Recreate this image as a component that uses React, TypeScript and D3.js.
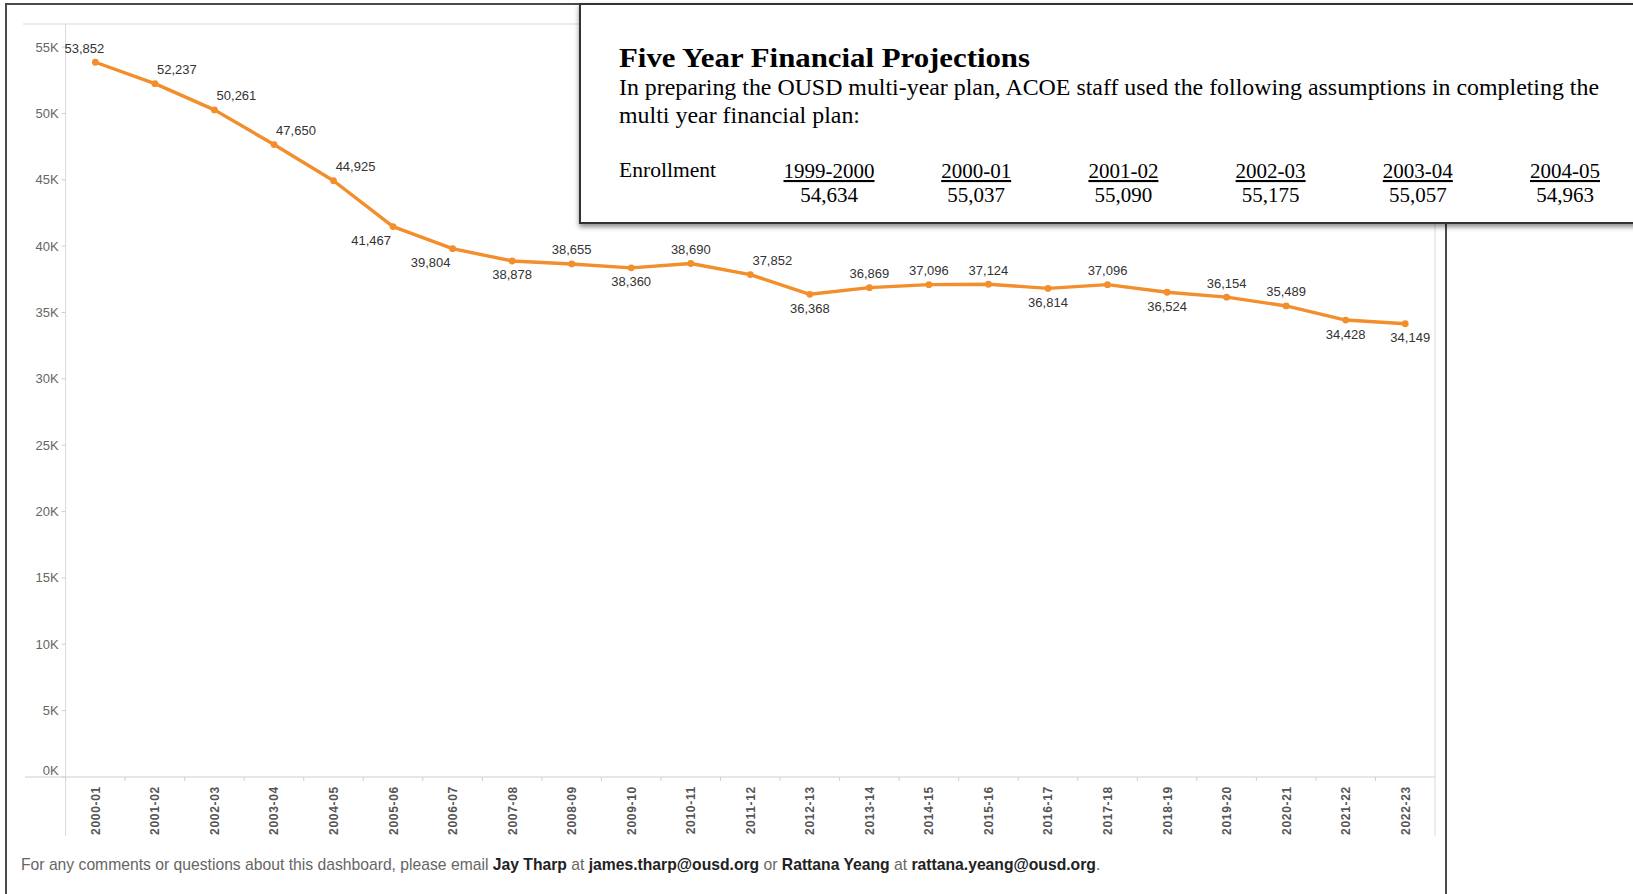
import React from "react";
import * as d3 from "d3";

const years = ["2000-01","2001-02","2002-03","2003-04","2004-05","2005-06","2006-07","2007-08","2008-09","2009-10","2010-11","2011-12","2012-13","2013-14","2014-15","2015-16","2016-17","2017-18","2018-19","2019-20","2020-21","2021-22","2022-23"];
const enrollment = [53852,52237,50261,47650,44925,41467,39804,38878,38655,38360,38690,37852,36368,36869,37096,37124,36814,37096,36524,36154,35489,34428,34149];
const yTicks = [0,5000,10000,15000,20000,25000,30000,35000,40000,45000,50000,55000];
const labelSpots = ["aboveLeft","aboveRight","aboveRight","aboveRight","aboveRight","belowLeft","belowLeft","below","above","below","above","aboveRight","below","above","above","above","below","above","below","above","above","below","belowRight"];

const planYears = ["1999-2000","2000-01","2001-02","2002-03","2003-04","2004-05"];
const planEnrollment = [54634,55037,55090,55175,55057,54963];

const W = 1633, H = 894;
const plotLeft = 65.6, plotRight = 1435, plotTop = 24, plotBottom = 777, frameBottom = 836;

const spotOffset: Record<string, [number, number]> = {
  above: [0, -14], below: [0, 14], aboveRight: [22, -14], belowLeft: [-22, 14],
  aboveLeft: [-11, -14], belowRight: [5, 14],
};

export default function App() {
  const x = d3.scaleBand<string>().domain(years).range([plotLeft, plotRight]).padding(0);
  const y = d3.scaleLinear().domain([0, 55000]).range([plotBottom, 47]);
  const cx = (d: string) => (x(d) as number) + x.bandwidth() / 2;
  const fmt = d3.format(",");
  const line = d3.line<number>().x((_, i) => cx(years[i])).y(d => y(d));
  const px = d3.scalePoint<string>().domain(planYears).range([829, 1565]);
  const sans = "Arial, 'Liberation Sans', sans-serif";
  const serif = "'Liberation Serif', 'Times New Roman', serif";

  return (
    <svg width={W} height={H} style={{ position: "absolute", left: 0, top: 0, background: "#fff" }}>
      <defs>
        <filter id="shadow" x="-5%" y="-10%" width="110%" height="130%">
          <feDropShadow dx="0" dy="3" stdDeviation="2.5" floodColor="#000" floodOpacity="0.45" />
        </filter>
      </defs>
      <rect x={0} y={0} width={W} height={H} fill="#fff" />
      {/* outer dashboard border */}
      <path d={`M6,${H} V4 H1446 V${H}`} fill="none" stroke="#4a4a4a" strokeWidth={2} />
      {/* plot frame */}
      <line x1={23} x2={plotRight} y1={plotTop} y2={plotTop} stroke="#d9d9d9" strokeWidth={1} />
      <line x1={plotLeft} x2={plotLeft} y1={plotTop} y2={frameBottom} stroke="#d9d9d9" strokeWidth={1} />
      <line x1={plotRight} x2={plotRight} y1={plotTop} y2={frameBottom} stroke="#d9d9d9" strokeWidth={1} />
      <line x1={25} x2={plotRight} y1={plotBottom} y2={plotBottom} stroke="#cfcfcf" strokeWidth={1} />
      {/* y axis ticks & labels */}
      {yTicks.map((t, i) => (
        <g key={t}>
          <line x1={plotLeft - 4} x2={plotLeft} y1={y(t)} y2={y(t)} stroke="#d0d0d0" />
          <text x={plotLeft - 7} y={y(t) + 4.5 - (i === 0 ? 7 : 0)} textAnchor="end" fontFamily={sans} fontSize={13} fill="#666">
            {`${t / 1000}K`}
          </text>
        </g>
      ))}
      {/* x axis ticks & labels */}
      {years.map((yr) => (
        <g key={yr}>
          <line x1={x(yr) as number} x2={x(yr) as number} y1={plotBottom} y2={plotBottom + 4} stroke="#d0d0d0" />
          <text transform={`translate(${cx(yr) + 4.5},786) rotate(-90)`} textAnchor="end" fontFamily={sans} fontWeight="bold" fontSize={12} letterSpacing={0.7} fill="#555">
            {yr}
          </text>
        </g>
      ))}
      {/* line + points */}
      <path d={line(enrollment) || ""} fill="none" stroke="#F28E2B" strokeWidth={3.4} strokeLinejoin="round" />
      {enrollment.map((v, i) => (
        <circle key={i} cx={cx(years[i])} cy={y(v)} r={3.4} fill="#F28E2B" />
      ))}
      {enrollment.map((v, i) => {
        const [dx, dy] = spotOffset[labelSpots[i]];
        return (
          <text key={"l" + i} x={cx(years[i]) + dx} y={y(v) + dy + 4.5} textAnchor="middle" fontFamily={sans} fontSize={13} fill="#333">
            {fmt(v)}
          </text>
        );
      })}
      {/* footer */}
      <text x={21} y={870} fontFamily={sans} fontSize={15.7} fill="#666">
        <tspan>For any comments or questions about this dashboard, please email </tspan>
        <tspan fontWeight="bold" fill="#222">Jay Tharp</tspan>
        <tspan> at </tspan>
        <tspan fontWeight="bold" fill="#222">james.tharp@ousd.org</tspan>
        <tspan> or </tspan>
        <tspan fontWeight="bold" fill="#222">Rattana Yeang</tspan>
        <tspan> at </tspan>
        <tspan fontWeight="bold" fill="#222">rattana.yeang@ousd.org</tspan>
        <tspan>.</tspan>
      </text>
      {/* overlay box */}
      <rect x={580} y={4} width={1070} height={219} fill="#fff" stroke="#333" strokeWidth={2} filter="url(#shadow)" />
      <text x={619} y={67} fontFamily={serif} fontWeight="bold" fontSize={28} fill="#000" textLength={411} lengthAdjust="spacingAndGlyphs">
        Five Year Financial Projections
      </text>
      <text x={619} y={95} fontFamily={serif} fontSize={23} fill="#000" textLength={980} lengthAdjust="spacingAndGlyphs">
        In preparing the OUSD multi-year plan, ACOE staff used the following assumptions in completing the
      </text>
      <text x={619} y={123} fontFamily={serif} fontSize={23} fill="#000" textLength={241} lengthAdjust="spacingAndGlyphs">
        multi year financial plan:
      </text>
      <text x={619} y={177} fontFamily={serif} fontSize={21} fill="#000" textLength={97} lengthAdjust="spacingAndGlyphs">
        Enrollment
      </text>
      {planYears.map((py, i) => (
        <g key={py}>
          <text x={px(py)} y={178} textAnchor="middle" fontFamily={serif} fontSize={21} fill="#000" textDecoration="underline">
            {py}
          </text>
          <text x={px(py)} y={202} textAnchor="middle" fontFamily={serif} fontSize={21} fill="#000">
            {fmt(planEnrollment[i])}
          </text>
        </g>
      ))}
    </svg>
  );
}
